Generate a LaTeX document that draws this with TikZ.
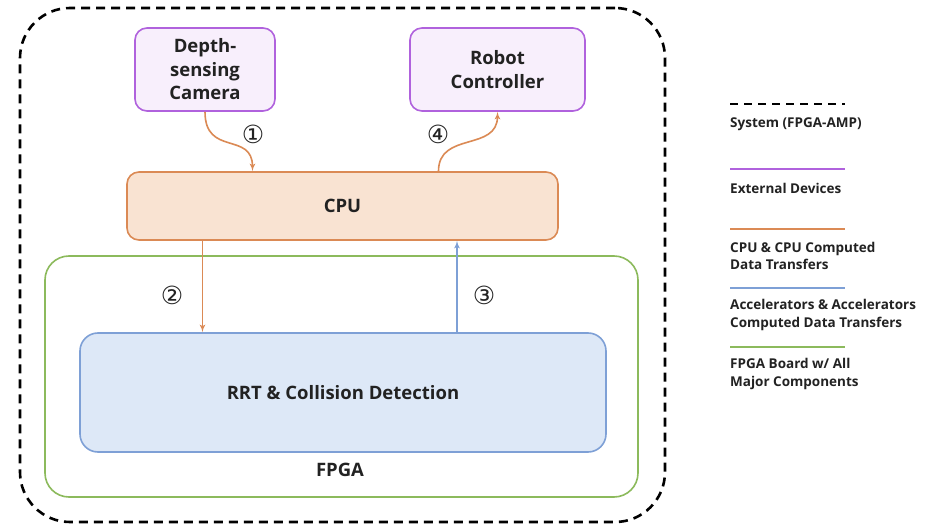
\documentclass[tikz,border=0pt]{standalone}
\usepackage{fontspec}
\setmainfont{Open Sans}
\newfontfamily\circfont{DejaVu Sans}
\usepackage{tikz}
\usetikzlibrary{calc,shapes,arrows.meta,arrows,positioning}

\definecolor{devline}{HTML}{B062DD}
\definecolor{devfill}{HTML}{F8EFFC}
\definecolor{cpuline}{HTML}{DB8A55}
\definecolor{cpufill}{HTML}{F9E3D2}
\definecolor{accline}{HTML}{7EA0D6}
\definecolor{accfill}{HTML}{DDE8F7}
\definecolor{fpgaline}{HTML}{8CBA5C}
\definecolor{txt}{HTML}{222222}

\tikzset{
  box/.style={draw,rounded corners=12pt,line width=1.6pt,text=txt,align=center,
    font=\fontsize{18.5}{23.5}\selectfont\bfseries},
  devbox/.style={box,draw=devline,fill=devfill},
  num/.style={font=\fontsize{25}{25}\circfont,text=txt},
  legtext/.style={anchor=west,align=left,text=txt,inner sep=0pt,
    font=\fontsize{13.5}{17.5}\selectfont\bfseries},
  legline/.style={line width=2pt}
}

\begin{document}
\begin{tikzpicture}[x=1pt,y=-1pt]
	\fill[white] (0,0) rectangle (932,526);
	% system and board frames
	\node(sys) [draw,rounded corners=50pt,line width=2.6pt,dash pattern=on 9pt off 6pt,
	  minimum width=645pt,minimum height=514pt] at (342.5,265) {};
	\node(fpga) [draw=fpgaline,rounded corners=24pt,line width=1.6pt,
	  minimum width=593pt,minimum height=241pt] at (341.5,376.5) {};
	\node(fl) [text=txt,font=\fontsize{18.5}{20}\selectfont\bfseries] at (340,470) {FPGA};
	% blocks
	\node(cam) [devbox,minimum width=140pt,minimum height=83pt] at (205,69.5) {Depth-\\sensing\\Camera};
	\node(rob) [devbox,minimum width=175pt,minimum height=83pt] at (497.5,69.5) {Robot\\Controller};
	\node(cpu) [box,draw=cpuline,fill=cpufill,minimum width=431pt,minimum height=68pt] at (342.5,206) {CPU};
	\node(rrt) [box,draw=accline,fill=accfill,rounded corners=18pt,minimum width=526pt,minimum height=119pt] at (343,392.5) {RRT \& Collision Detection};
	% transfers
	\draw[-latex',cpuline,line width=1.6pt] (cam.south) .. controls +(0,45) and +(0,-40) .. ([xshift=-90pt]cpu.north);
	\draw[-latex',cpuline,line width=1.6pt] ([xshift=96pt]cpu.north) .. controls +(0,-40) and +(0,40) .. (rob.south);
	\draw[-latex',cpuline,line width=1.6pt] ([xshift=-140pt]cpu.south) -- ([xshift=-140pt]cpu.south |- rrt.north);
	\draw[-latex',accline,line width=1.6pt] ([xshift=114pt]rrt.north) -- ([xshift=114pt]rrt.north |- cpu.south);
	\node(n1) [num] at (253,134) {①};
	\node(n4) [num] at (438,134) {④};
	\node(n2) [num] at (172,295) {②};
	\node(n3) [num] at (484,295) {③};
	% legend
	\draw[legline,dash pattern=on 8pt off 6pt] (730,104) -- (845,104);
	\node(l1) [legtext] at (730,124) {System (FPGA-AMP)};
	\draw[legline,devline] (730,169) -- (845,169);
	\node(l2) [legtext] at (730,188) {External Devices};
	\draw[legline,cpuline] (730,229) -- (845,229);
	\node(l3) [legtext] at (730,256) {CPU \& CPU Computed\\Data Transfers};
	\draw[legline,accline] (730,288) -- (845,288);
	\node(l4) [legtext] at (730,315) {Accelerators \& Accelerators\\Computed Data Transfers};
	\draw[legline,fpgaline] (730,347) -- (845,347);
	\node(l5) [legtext] at (730,374) {FPGA Board w/ All\\Major Components};
\end{tikzpicture}
\end{document}
